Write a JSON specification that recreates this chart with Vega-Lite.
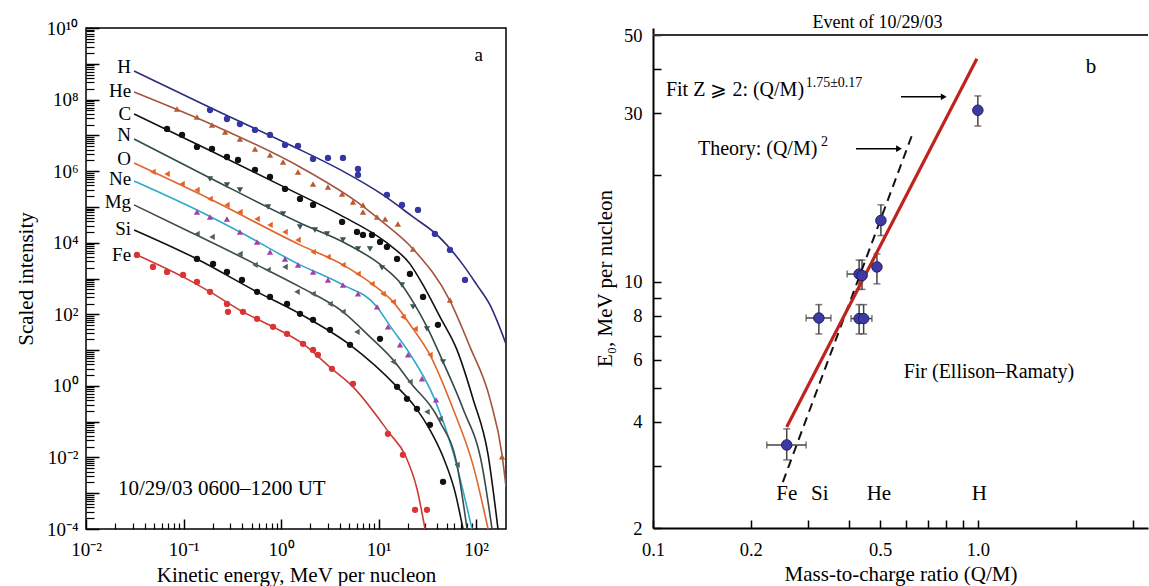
{
  "$schema": "https://vega.github.io/schema/vega-lite/v6.json",
  "background": "white",
  "padding": {"left": 14, "top": 14, "right": 0, "bottom": 0},
  "spacing": 87,
  "config": {
    "font": "Liberation Serif",
    "axis": {"labelFont": "Liberation Serif", "titleFont": "Liberation Serif", "labelColor": "black", "titleColor": "black", "titleFontWeight": "normal", "labelFontSize": 19, "titleFontSize": 21, "grid": false, "domainColor": "black", "tickColor": "black", "domainWidth": 1.5},
    "text": {"font": "Liberation Serif", "color": "black"},
    "title": {"font": "Liberation Serif", "fontWeight": "normal", "color": "black"}
  },
  "datasets": {
    "curves": [
      {"el":"H","E":0.0311,"I":6.3e8},{"el":"H","E":0.201,"I":5.46e7},{"el":"H","E":1.236,"I":5.4e6},{"el":"H","E":4.03,"I":1.1e6},{"el":"H","E":11.1,"I":2.16e5},{"el":"H","E":22.6,"I":5.26e4},{"el":"H","E":39.8,"I":1.65e4},{"el":"H","E":73.6,"I":2400},{"el":"H","E":102,"I":662},{"el":"H","E":139,"I":183},{"el":"H","E":203,"I":14.9},
      {"el":"He","E":0.0311,"I":1.63e8},{"el":"He","E":0.201,"I":1.95e7},{"el":"He","E":1.566,"I":1.31e6},{"el":"He","E":6.01,"I":1.38e5},{"el":"He","E":10.36,"I":4.34e4},{"el":"He","E":22.6,"I":6710},{"el":"He","E":54.1,"I":237},{"el":"He","E":86.7,"I":12.3},{"el":"He","E":139,"I":0.434},{"el":"He","E":185,"I":0.0118},{"el":"He","E":203,"I":1.51e-3},
      {"el":"C","E":0.0311,"I":3.96e7},{"el":"C","E":0.201,"I":3.44e6},{"el":"C","E":1.236,"I":2.99e5},{"el":"C","E":4.03,"I":5.98e4},{"el":"C","E":12.2,"I":9860},{"el":"C","E":21.0,"I":2560},{"el":"C","E":28.6,"I":662},{"el":"C","E":42.7,"I":84.5},{"el":"C","E":63.8,"I":10.1},{"el":"C","E":93.1,"I":0.434},{"el":"C","E":133,"I":0.0118},{"el":"C","E":168,"I":1e-4},
      {"el":"N","E":0.0311,"I":7.93e6},{"el":"N","E":0.187,"I":6.46e5},{"el":"N","E":1.566,"I":3.57e4},{"el":"N","E":4.53,"I":9860},{"el":"N","E":10.86,"I":2250},{"el":"N","E":17.4,"I":662},{"el":"N","E":22.6,"I":222},{"el":"N","E":31.4,"I":44.5},{"el":"N","E":45.9,"I":4.68},{"el":"N","E":73.6,"I":0.228},{"el":"N","E":115,"I":6.2e-3},{"el":"N","E":146,"I":1e-4},
      {"el":"O","E":0.0311,"I":1.69e6},{"el":"O","E":0.187,"I":1.67e5},{"el":"O","E":1.566,"I":8690},{"el":"O","E":4.32,"I":2400},{"el":"O","E":8.57,"I":706},{"el":"O","E":14.1,"I":222},{"el":"O","E":22.6,"I":39.1},{"el":"O","E":33.7,"I":7.35},{"el":"O","E":58.1,"I":0.228},{"el":"O","E":93.1,"I":6.2e-3},{"el":"O","E":133,"I":1e-4},
      {"el":"Ne","E":0.0311,"I":5.32e5},{"el":"Ne","E":0.1374,"I":8.24e4},{"el":"Ne","E":0.379,"I":2.0e4},{"el":"Ne","E":1.494,"I":2560},{"el":"Ne","E":4.32,"I":662},{"el":"Ne","E":9.66,"I":161},{"el":"Ne","E":13.1,"I":47.4},{"el":"Ne","E":21.0,"I":7.83},{"el":"Ne","E":37.9,"I":0.406},{"el":"Ne","E":58.1,"I":0.0143},{"el":"Ne","E":91.0,"I":1e-4},
      {"el":"Mg","E":0.0311,"I":1.14e5},{"el":"Mg","E":0.1167,"I":2.0e4},{"el":"Mg","E":0.541,"I":2560},{"el":"Mg","E":1.566,"I":582},{"el":"Mg","E":4.32,"I":117},{"el":"Mg","E":8.18,"I":23.4},{"el":"Mg","E":14.1,"I":5.32},{"el":"Mg","E":21.0,"I":1.29},{"el":"Mg","E":42.7,"I":0.0986},{"el":"Mg","E":63.8,"I":6.2e-3},{"el":"Mg","E":80.9,"I":1e-4},
      {"el":"Si","E":0.0311,"I":2.28e4},{"el":"Si","E":0.1374,"I":3520},{"el":"Si","E":0.568,"I":423},{"el":"Si","E":1.566,"I":103},{"el":"Si","E":5.10,"I":14.0},{"el":"Si","E":15.5,"I":0.938},{"el":"Si","E":23.7,"I":0.259},{"el":"Si","E":33.7,"I":0.059},{"el":"Si","E":45.9,"I":0.0104},{"el":"Si","E":60.9,"I":1.09e-3},{"el":"Si","E":73.6,"I":1e-4},
      {"el":"Fe","E":0.0333,"I":4560},{"el":"Fe","E":0.0989,"I":1110},{"el":"Fe","E":0.187,"I":423},{"el":"Fe","E":0.407,"I":117},{"el":"Fe","E":0.828,"I":44.5},{"el":"Fe","E":1.681,"I":14.9},{"el":"Fe","E":3.33,"I":2.99},{"el":"Fe","E":5.47,"I":0.938},{"el":"Fe","E":13.1,"I":0.0456},{"el":"Fe","E":18.7,"I":0.0118},{"el":"Fe","E":24.8,"I":1.33e-3},{"el":"Fe","E":30.0,"I":1e-4}
    ],
    "points": [
      {"el":"H","E":0.187,"I":5.12e7},{"el":"H","E":0.279,"I":2.87e7},{"el":"H","E":0.379,"I":2.08e7},{"el":"H","E":0.541,"I":1.42e7},{"el":"H","E":0.771,"I":1.03e7},{"el":"H","E":1.099,"I":5.4e6},{"el":"H","E":1.494,"I":5.06e6},{"el":"H","E":2.13,"I":2.19e6},{"el":"H","E":3.03,"I":2.34e6},{"el":"H","E":4.32,"I":2.34e6},{"el":"H","E":6.16,"I":1.15e6},{"el":"H","E":6.16,"I":7.83e5},{"el":"H","E":12.2,"I":2.16e5},{"el":"H","E":17.4,"I":1.14e5},{"el":"H","E":25.4,"I":8.24e4},{"el":"H","E":37.9,"I":1.76e4},{"el":"H","E":54.1,"I":6300},{"el":"H","E":77.1,"I":914},
      {"el":"He","E":0.0857,"I":5.46e7},{"el":"He","E":0.1374,"I":3.27e7},{"el":"He","E":0.196,"I":1.95e7},{"el":"He","E":0.267,"I":1.24e7},{"el":"He","E":0.379,"I":7.93e6},{"el":"He","E":0.541,"I":4.17e6},{"el":"He","E":0.771,"I":2.84e6},{"el":"He","E":1.049,"I":1.81e6},{"el":"He","E":1.494,"I":9.5e5},{"el":"He","E":2.13,"I":4.39e5},{"el":"He","E":3.03,"I":3.62e5},{"el":"He","E":4.23,"I":2.31e5},{"el":"He","E":5.47,"I":1.38e5},{"el":"He","E":6.93,"I":1.14e5},{"el":"He","E":6.93,"I":7.24e4},{"el":"He","E":9.66,"I":5.26e4},{"el":"He","E":11.7,"I":4.62e4},{"el":"He","E":15.8,"I":3.35e4},{"el":"He","E":22.6,"I":6710},{"el":"He","E":54.1,"I":252},{"el":"He","E":185,"I":0.0104},
      {"el":"C","E":0.0678,"I":1.51e7},{"el":"C","E":0.0966,"I":1.03e7},{"el":"C","E":0.1374,"I":4.74e6},{"el":"C","E":0.196,"I":4.17e6},{"el":"C","E":0.279,"I":2.49e6},{"el":"C","E":0.362,"I":2.06e6},{"el":"C","E":0.541,"I":1.08e6},{"el":"C","E":0.771,"I":6.89e5},{"el":"C","E":1.099,"I":3.18e5},{"el":"C","E":1.566,"I":1.67e5},{"el":"C","E":2.13,"I":1.14e5},{"el":"C","E":4.23,"I":3.81e4},{"el":"C","E":6.01,"I":2.0e4},{"el":"C","E":6.93,"I":1.65e4},{"el":"C","E":8.57,"I":1.65e4},{"el":"C","E":10.36,"I":1.05e4},{"el":"C","E":12.2,"I":7640},{"el":"C","E":15.5,"I":3520},{"el":"C","E":21.0,"I":1340},{"el":"C","E":28.6,"I":306},{"el":"C","E":40.7,"I":50.6},
      {"el":"N","E":0.187,"I":6.05e5},{"el":"N","E":0.279,"I":4.12e5},{"el":"N","E":0.379,"I":2.99e5},{"el":"N","E":0.736,"I":1.0e5},{"el":"N","E":1.049,"I":6.37e4},{"el":"N","E":1.566,"I":2.76e4},{"el":"N","E":2.23,"I":2.28e4},{"el":"N","E":2.96,"I":1.76e4},{"el":"N","E":4.32,"I":1.2e4},{"el":"N","E":6.16,"I":6710},{"el":"N","E":8.18,"I":6710},{"el":"N","E":10.86,"I":1980},{"el":"N","E":17.4,"I":662},{"el":"N","E":22.6,"I":161},{"el":"N","E":31.4,"I":39.1},{"el":"N","E":45.9,"I":4.68},
      {"el":"O","E":0.0486,"I":9.5e5},{"el":"O","E":0.0678,"I":8.36e5},{"el":"O","E":0.0966,"I":4.39e5},{"el":"O","E":0.1374,"I":2.99e5},{"el":"O","E":0.187,"I":1.67e5},{"el":"O","E":0.279,"I":1.14e5},{"el":"O","E":0.379,"I":7.24e4},{"el":"O","E":0.568,"I":4.62e4},{"el":"O","E":0.771,"I":3.14e4},{"el":"O","E":1.099,"I":2.0e4},{"el":"O","E":1.494,"I":1.2e4},{"el":"O","E":2.13,"I":5530},{"el":"O","E":3.03,"I":4010},{"el":"O","E":4.32,"I":2400},{"el":"O","E":6.16,"I":1340},{"el":"O","E":8.57,"I":706},{"el":"O","E":11.1,"I":372},{"el":"O","E":14.1,"I":222},{"el":"O","E":17.8,"I":84.5},{"el":"O","E":23.7,"I":39.1},{"el":"O","E":33.7,"I":7.35},
      {"el":"Ne","E":0.1374,"I":7.24e4},{"el":"Ne","E":0.187,"I":5.26e4},{"el":"Ne","E":0.279,"I":4.62e4},{"el":"Ne","E":0.379,"I":2.0e4},{"el":"Ne","E":0.568,"I":1.05e4},{"el":"Ne","E":0.771,"I":5530},{"el":"Ne","E":1.099,"I":3520},{"el":"Ne","E":1.494,"I":2400},{"el":"Ne","E":2.13,"I":1530},{"el":"Ne","E":3.03,"I":914},{"el":"Ne","E":4.32,"I":662},{"el":"Ne","E":6.16,"I":372},{"el":"Ne","E":9.66,"I":161},{"el":"Ne","E":12.5,"I":44.5},{"el":"Ne","E":16.6,"I":14.0},{"el":"Ne","E":20.1,"I":7.35},{"el":"Ne","E":27.9,"I":1.57},{"el":"Ne","E":38.9,"I":0.406},
      {"el":"Mg","E":0.1374,"I":1.76e4},{"el":"Mg","E":0.196,"I":1.45e4},{"el":"Mg","E":0.379,"I":4860},{"el":"Mg","E":0.541,"I":2400},{"el":"Mg","E":0.736,"I":1740},{"el":"Mg","E":1.099,"I":2110},{"el":"Mg","E":1.459,"I":423},{"el":"Mg","E":2.13,"I":372},{"el":"Mg","E":3.18,"I":195},{"el":"Mg","E":4.32,"I":117},{"el":"Mg","E":6.01,"I":32.2},{"el":"Mg","E":14.1,"I":4.68},{"el":"Mg","E":21.0,"I":1.29},{"el":"Mg","E":31.4,"I":0.188},{"el":"Mg","E":42.7,"I":0.12},{"el":"Mg","E":63.8,"I":6.2e-3},
      {"el":"Si","E":0.1374,"I":3520},{"el":"Si","E":0.201,"I":2560},{"el":"Si","E":0.279,"I":1530},{"el":"Si","E":0.398,"I":914},{"el":"Si","E":0.568,"I":423},{"el":"Si","E":0.771,"I":306},{"el":"Si","E":1.153,"I":195},{"el":"Si","E":1.566,"I":103},{"el":"Si","E":2.13,"I":69.8},{"el":"Si","E":3.18,"I":36.7},{"el":"Si","E":5.10,"I":14.0},{"el":"Si","E":10.36,"I":20.6},{"el":"Si","E":15.5,"I":0.938},{"el":"Si","E":19.6,"I":0.434},{"el":"Si","E":24.8,"I":0.228},{"el":"Si","E":33.7,"I":0.0815},{"el":"Si","E":45.9,"I":2.08e-3},
      {"el":"Fe","E":0.0333,"I":4560},{"el":"Fe","E":0.0486,"I":2110},{"el":"Fe","E":0.0678,"I":1530},{"el":"Fe","E":0.0989,"I":1260},{"el":"Fe","E":0.1374,"I":804},{"el":"Fe","E":0.187,"I":423},{"el":"Fe","E":0.279,"I":195},{"el":"Fe","E":0.286,"I":117},{"el":"Fe","E":0.407,"I":117},{"el":"Fe","E":0.568,"I":74.5},{"el":"Fe","E":0.828,"I":44.5},{"el":"Fe","E":1.153,"I":28.4},{"el":"Fe","E":1.681,"I":14.9},{"el":"Fe","E":2.13,"I":10.1},{"el":"Fe","E":2.39,"I":7.35},{"el":"Fe","E":3.33,"I":2.99},{"el":"Fe","E":5.47,"I":1.14},{"el":"Fe","E":12.5,"I":0.0456},{"el":"Fe","E":17.8,"I":0.0118},{"el":"Fe","E":23.7,"I":3.44e-4},{"el":"Fe","E":31.4,"I":3.44e-4}
    ],
    "labels": [
      {"t":"H","E":0.029,"I":8.15e8},{"t":"He","E":0.029,"I":1.74e8},{"t":"C","E":0.029,"I":3.96e7},{"t":"N","E":0.029,"I":1.03e7},{"t":"O","E":0.029,"I":2.19e6},{"t":"Ne","E":0.029,"I":6.05e5},{"t":"Mg","E":0.029,"I":1.38e5},{"t":"Si","E":0.029,"I":2.43e4},{"t":"Fe","E":0.029,"I":4560},{"t":"a","E":118,"I":1.76e9}
    ],
    "ions": [
      {"qm":1.0,"e0":30.6,"lo":27.6,"hi":33.6},
      {"qm":0.503,"e0":14.9,"lo":13.5,"hi":16.5},
      {"qm":0.489,"e0":11.0,"lo":9.85,"hi":11.97},
      {"qm":0.431,"e0":10.5,"lo":9.5,"hi":11.5},
      {"qm":0.44,"e0":10.4,"lo":9.5,"hi":11.5},
      {"qm":0.324,"e0":7.88,"lo":7.1,"hi":8.6},
      {"qm":0.431,"e0":7.85,"lo":7.1,"hi":8.6},
      {"qm":0.445,"e0":7.85,"lo":7.1,"hi":8.6},
      {"qm":0.258,"e0":3.44,"lo":3.12,"hi":3.82}
    ],
    "xerr": [
      {"e0":10.5,"xlo":0.396,"xhi":0.455},
      {"e0":7.88,"xlo":0.296,"xhi":0.353},
      {"e0":7.85,"xlo":0.407,"xhi":0.472},
      {"e0":3.44,"xlo":0.224,"xhi":0.296}
    ]
  },
  "hconcat": [
    {
      "width": 420,
      "height": 501,
      "view": {"stroke": "black", "strokeWidth": 1.5},
      "resolve": {"axis": {"x": "independent", "y": "independent"}},
      "layer": [
        {
          "data": {"name": "curves"},
          "mark": {"type": "line", "interpolate": "monotone", "strokeWidth": 1.6, "clip": true},
          "encoding": {
            "x": {"field": "E", "type": "quantitative", "scale": {"type": "log", "domain": [0.01, 203], "nice": false},
              "axis": {"orient": "bottom", "values": [0.01, 0.1, 1, 10, 100], "labelExpr": "['10⁻²','10⁻¹','10⁰','10¹','10²'][round(log(datum.value)/LN10)+2]", "tickSize": -10, "tickWidth": 1.5, "domain": false, "title": "Kinetic energy, MeV per nucleon", "labelPadding": 21, "titlePadding": 5, "labelFlush": false, "labelOverlap": false, "labelBound": false}},
            "y": {"field": "I", "type": "quantitative", "scale": {"type": "log", "domain": [1e-4, 1e10], "nice": false},
              "axis": {"orient": "left", "values": [1e-4, 1e-3, 0.01, 0.1, 1, 10, 100, 1000, 1e4, 1e5, 1e6, 1e7, 1e8, 1e9, 1e10], "labelExpr": "['10⁻⁴','','10⁻²','','10⁰','','10²','','10⁴','','10⁶','','10⁸','','10¹⁰'][round(log(datum.value)/LN10)+4]", "tickSize": -13, "tickWidth": 1.5, "domain": false, "title": "Scaled intensity", "labelPadding": 21, "titlePadding": 10, "labelOverlap": false, "labelFlush": false}},
            "stroke": {"field": "el", "type": "nominal", "scale": {"domain": ["H","He","C","N","O","Ne","Mg","Si","Fe"], "range": ["#2b2b7c","#a3543f","#111111","#354848","#e0662c","#2fa9c9","#3d4b4b","#111111","#cc3b35"]}, "legend": null}
          }
        },
        {
          "data": {"name": "points"},
          "mark": {"type": "point", "filled": true, "size": 40, "opacity": 1, "clip": true},
          "encoding": {
            "x": {"field": "E", "type": "quantitative", "scale": {"type": "log", "domain": [0.01, 203], "nice": false},
              "axis": {"orient": "bottom", "values": [0.02,0.03,0.04,0.05,0.06,0.07,0.08,0.09,0.2,0.3,0.4,0.5,0.6,0.7,0.8,0.9,2,3,4,5,6,7,8,9,20,30,40,50,60,70,80,90], "labels": false, "tickSize": -6, "tickWidth": 1.2, "domain": false, "title": null}},
            "y": {"field": "I", "type": "quantitative", "scale": {"type": "log", "domain": [1e-4, 1e10], "nice": false},
              "axis": {"orient": "left", "values": [2e-4,3e-4,4e-4,5e-4,6e-4,7e-4,8e-4,9e-4,2e-3,3e-3,4e-3,5e-3,6e-3,7e-3,8e-3,9e-3,0.02,0.03,0.04,0.05,0.06,0.07,0.08,0.09,0.2,0.3,0.4,0.5,0.6,0.7,0.8,0.9,2,3,4,5,6,7,8,9,20,30,40,50,60,70,80,90,200,300,400,500,600,700,800,900,2e3,3e3,4e3,5e3,6e3,7e3,8e3,9e3,2e4,3e4,4e4,5e4,6e4,7e4,8e4,9e4,2e5,3e5,4e5,5e5,6e5,7e5,8e5,9e5,2e6,3e6,4e6,5e6,6e6,7e6,8e6,9e6,2e7,3e7,4e7,5e7,6e7,7e7,8e7,9e7,2e8,3e8,4e8,5e8,6e8,7e8,8e8,9e8,2e9,3e9,4e9,5e9,6e9,7e9,8e9,9e9], "labels": false, "tickSize": -8, "tickWidth": 1.2, "domain": false, "title": null}},
            "fill": {"field": "el", "type": "nominal", "scale": {"domain": ["H","He","C","N","O","Ne","Mg","Si","Fe"], "range": ["#3636a3","#b85a32","#111111","#3d5252","#e4622a","#a43fa8","#4f5f5f","#111111","#da3434"]}, "legend": null},
            "shape": {"field": "el", "type": "nominal", "scale": {"domain": ["H","He","C","N","O","Ne","Mg","Si","Fe"], "range": ["circle","triangle-up","circle","triangle-down","triangle-left","triangle-up","triangle-left","circle","circle"]}, "legend": null}
          }
        },
        {
          "data": {"name": "labels"},
          "mark": {"type": "text", "align": "right", "baseline": "middle", "fontSize": 19},
          "encoding": {
            "x": {"field": "E", "type": "quantitative", "scale": {"type": "log", "domain": [0.01, 203], "nice": false}, "axis": null},
            "y": {"field": "I", "type": "quantitative", "scale": {"type": "log", "domain": [1e-4, 1e10], "nice": false}, "axis": null},
            "text": {"field": "t"}
          }
        },
        {
          "data": {"values": [{"t": "10/29/03 0600–1200 UT", "E": 0.0213, "I": 1.33e-3}]},
          "mark": {"type": "text", "align": "left", "baseline": "middle", "fontSize": 21},
          "encoding": {
            "x": {"field": "E", "type": "quantitative", "scale": {"type": "log", "domain": [0.01, 203], "nice": false}, "axis": null},
            "y": {"field": "I", "type": "quantitative", "scale": {"type": "log", "domain": [1e-4, 1e10], "nice": false}, "axis": null},
            "text": {"field": "t"}
          }
        }
      ]
    },
    {
      "width": 495,
      "height": 500,
      "view": {"stroke": null},
      "title": {"text": "Event of 10/29/03", "fontSize": 18, "dx": -23, "offset": -6},
      "layer": [
        {
          "data": {"name": "ions"},
          "mark": {"type": "rule", "color": "#444444", "strokeWidth": 1.5},
          "encoding": {
            "x": {"field": "qm", "type": "quantitative", "scale": {"type": "log", "domain": [0.1, 3.34], "nice": false},
              "axis": {"orient": "bottom", "values": [0.1,0.2,0.3,0.4,0.5,0.6,0.7,0.8,0.9,1,2,3], "labelExpr": "datum.value==0.1?'0.1':datum.value==0.2?'0.2':datum.value==0.5?'0.5':datum.value==1?'1.0':''", "tickSize": -8, "tickWidth": 1.5, "domainWidth": 2, "title": "Mass-to-charge ratio (Q/M)", "labelPadding": 20, "titlePadding": 5, "labelFontSize": 18.5, "labelFlush": false, "labelOverlap": false, "labelBound": false}},
            "y": {"field": "lo", "type": "quantitative", "scale": {"type": "log", "domain": [2, 52.35], "nice": false},
              "axis": {"orient": "left", "values": [2,3,4,5,6,7,8,9,10,20,30,40,50], "labelExpr": "indexof([2,4,6,8,10,30,50], datum.value) >= 0 ? '' + datum.value : ''", "tickSize": -8, "tickWidth": 1.5, "domainWidth": 2, "title": "E₀, MeV per nucleon", "labelPadding": 19, "titlePadding": 8, "labelFontSize": 18.5, "labelOverlap": false, "labelFlush": false}},
            "y2": {"field": "hi"}
          }
        },
        {
          "data": {"name": "ions"},
          "mark": {"type": "tick", "orient": "horizontal", "size": 7, "thickness": 1.5, "color": "#444444"},
          "encoding": {"x": {"field": "qm", "type": "quantitative"}, "y": {"field": "lo", "type": "quantitative"}}
        },
        {
          "data": {"name": "ions"},
          "mark": {"type": "tick", "orient": "horizontal", "size": 7, "thickness": 1.5, "color": "#444444"},
          "encoding": {"x": {"field": "qm", "type": "quantitative"}, "y": {"field": "hi", "type": "quantitative"}}
        },
        {
          "data": {"name": "xerr"},
          "mark": {"type": "rule", "color": "#444444", "strokeWidth": 1.5},
          "encoding": {"x": {"field": "xlo", "type": "quantitative"}, "x2": {"field": "xhi"}, "y": {"field": "e0", "type": "quantitative"}}
        },
        {
          "data": {"name": "xerr"},
          "mark": {"type": "tick", "orient": "vertical", "size": 7, "thickness": 1.5, "color": "#444444"},
          "encoding": {"x": {"field": "xlo", "type": "quantitative"}, "y": {"field": "e0", "type": "quantitative"}}
        },
        {
          "data": {"name": "xerr"},
          "mark": {"type": "tick", "orient": "vertical", "size": 7, "thickness": 1.5, "color": "#444444"},
          "encoding": {"x": {"field": "xhi", "type": "quantitative"}, "y": {"field": "e0", "type": "quantitative"}}
        },
        {
          "data": {"values": [{"qm": 0.251, "e0": 2.70}, {"qm": 0.627, "e0": 26.0}]},
          "mark": {"type": "line", "color": "#111111", "strokeWidth": 2, "strokeDash": [9, 6]},
          "encoding": {"x": {"field": "qm", "type": "quantitative"}, "y": {"field": "e0", "type": "quantitative"}}
        },
        {
          "data": {"values": [{"qm": 0.258, "e0": 3.87}, {"qm": 0.993, "e0": 42.8}]},
          "mark": {"type": "line", "color": "#c0221c", "strokeWidth": 3.2},
          "encoding": {"x": {"field": "qm", "type": "quantitative"}, "y": {"field": "e0", "type": "quantitative"}}
        },
        {
          "data": {"name": "ions"},
          "mark": {"type": "point", "filled": true, "size": 110, "fill": "#3d3ba3", "stroke": "#1f1f66", "strokeWidth": 1, "opacity": 1},
          "encoding": {"x": {"field": "qm", "type": "quantitative"}, "y": {"field": "e0", "type": "quantitative"}}
        },
        {
          "data": {"values": [{"qm": 0.580, "qm2": 0.785, "e0": 33.4}, {"qm": 0.4217, "qm2": 0.572, "e0": 23.8}]},
          "mark": {"type": "rule", "color": "black", "strokeWidth": 1.5},
          "encoding": {"x": {"field": "qm", "type": "quantitative"}, "x2": {"field": "qm2"}, "y": {"field": "e0", "type": "quantitative"}}
        },
        {
          "data": {"values": [{"qm": 0.785, "e0": 33.4}, {"qm": 0.572, "e0": 23.8}]},
          "mark": {"type": "point", "shape": "triangle-right", "filled": true, "size": 45, "color": "black", "opacity": 1},
          "encoding": {"x": {"field": "qm", "type": "quantitative"}, "y": {"field": "e0", "type": "quantitative"}}
        },
        {
          "data": {"values": [{"t": "Fit Z ⩾ 2: (Q/M)", "qm": 0.1096, "e0": 34.9}, {"t": "Theory: (Q/M)", "qm": 0.1375, "e0": 23.8}, {"t": "Fir (Ellison–Ramaty)", "qm": 0.591, "e0": 5.54}]},
          "mark": {"type": "text", "align": "left", "baseline": "middle", "fontSize": 20},
          "encoding": {"x": {"field": "qm", "type": "quantitative"}, "y": {"field": "e0", "type": "quantitative"}, "text": {"field": "t"}}
        },
        {
          "data": {"values": [{"t": "1.75±0.17", "qm": 0.295, "e0": 36.5}, {"t": "2", "qm": 0.329, "e0": 24.9}]},
          "mark": {"type": "text", "align": "left", "baseline": "middle", "fontSize": 14},
          "encoding": {"x": {"field": "qm", "type": "quantitative"}, "y": {"field": "e0", "type": "quantitative"}, "text": {"field": "t"}}
        },
        {
          "data": {"values": [{"t": "b", "qm": 2.23, "e0": 40.6}, {"t": "Fe", "qm": 0.258, "e0": 2.5}, {"t": "Si", "qm": 0.326, "e0": 2.5}, {"t": "He", "qm": 0.496, "e0": 2.5}, {"t": "H", "qm": 1.01, "e0": 2.5}]},
          "mark": {"type": "text", "align": "center", "baseline": "middle", "fontSize": 21},
          "encoding": {"x": {"field": "qm", "type": "quantitative"}, "y": {"field": "e0", "type": "quantitative"}, "text": {"field": "t"}}
        },
        {
          "data": {"values": [{}]},
          "mark": {"type": "rule", "color": "#333333", "strokeWidth": 2},
          "encoding": {"y": {"datum": 50, "type": "quantitative"}}
        }
      ]
    }
  ]
}
